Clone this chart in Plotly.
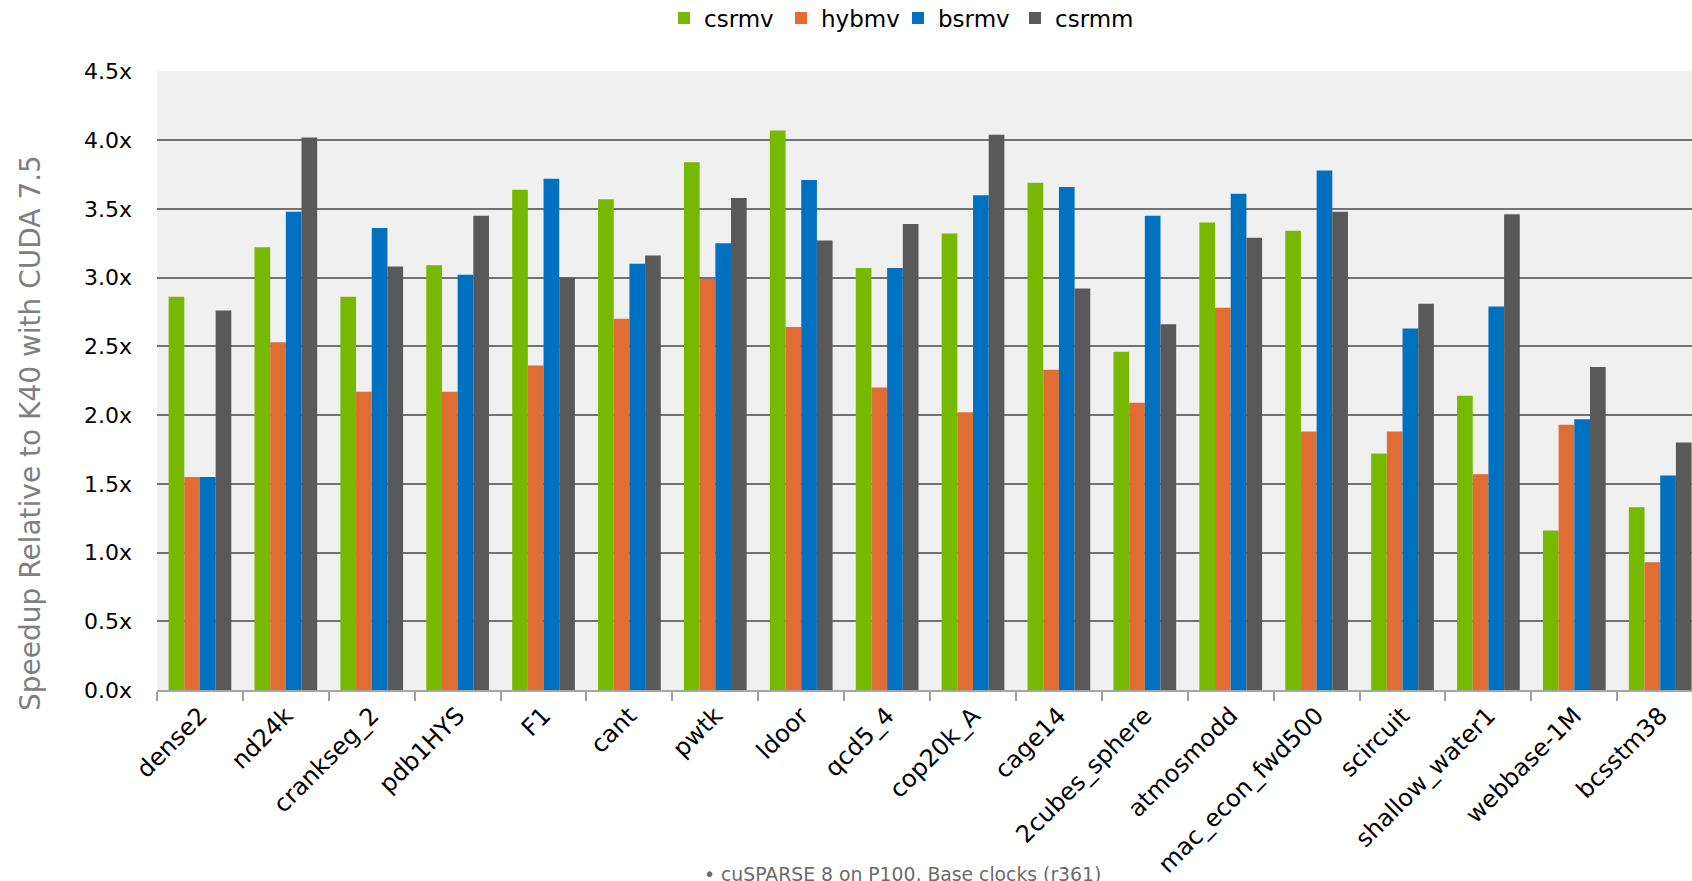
import plotly.graph_objects as go

# Sparse matrices benchmarked
matrices = [
    "dense2", "nd24k", "crankseg_2", "pdb1HYS", "F1", "cant", "pwtk", "ldoor",
    "qcd5_4", "cop20k_A", "cage14", "2cubes_sphere", "atmosmodd",
    "mac_econ_fwd500", "scircuit", "shallow_water1", "webbase-1M", "bcsstm38",
]

# Speedup of P100 (cuSPARSE 8) over K40 (CUDA 7.5), per routine
csrmv = [2.86, 3.22, 2.86, 3.09, 3.64, 3.57, 3.84, 4.07, 3.07, 3.32, 3.69,
         2.46, 3.40, 3.34, 1.72, 2.14, 1.16, 1.33]
hybmv = [1.55, 2.53, 2.17, 2.17, 2.36, 2.70, 2.99, 2.64, 2.20, 2.02, 2.33,
         2.09, 2.78, 1.88, 1.88, 1.57, 1.93, 0.93]
bsrmv = [1.55, 3.48, 3.36, 3.02, 3.72, 3.10, 3.25, 3.71, 3.07, 3.60, 3.66,
         3.45, 3.61, 3.78, 2.63, 2.79, 1.97, 1.56]
csrmm = [2.76, 4.02, 3.08, 3.45, 3.00, 3.16, 3.58, 3.27, 3.39, 4.04, 2.92,
         2.66, 3.29, 3.48, 2.81, 3.46, 2.35, 1.80]

series = [
    ("csrmv", csrmv, "#76b900"),
    ("hybmv", hybmv, "#e06d33"),
    ("bsrmv", bsrmv, "#0070c0"),
    ("csrmm", csrmm, "#595959"),
]

y_ticks = [0.0, 0.5, 1.0, 1.5, 2.0, 2.5, 3.0, 3.5, 4.0, 4.5]
y_tick_text = [f"{v:.1f}x" for v in y_ticks]

FONT = "DejaVu Sans"

fig = go.Figure()
for name, vals, color in series:
    fig.add_trace(go.Bar(
        name=name, x=matrices, y=vals,
        marker=dict(color=color, line=dict(width=0)),
    ))

W, H = 1692, 881
L, T, B = 157, 71, 191
Y0_PX = H - B  # pixel row of the x axis
PLOT_H = Y0_PX - T


def paper_y(px):
    return (Y0_PX - px) / PLOT_H


fig.update_layout(
    width=W, height=H,
    margin=dict(l=L, r=0, t=T, b=B, pad=0, autoexpand=False),
    paper_bgcolor="white",
    plot_bgcolor="#f0f0f0",
    barmode="group",
    bargap=0.27,
    bargroupgap=0,
    font=dict(family=FONT, color="black"),
    legend=dict(
        orientation="h",
        xref="container", yref="paper",
        x=664 / W, y=paper_y(-3.5),
        xanchor="left", yanchor="top",
        font=dict(family=FONT, size=23, color="black"),
        bgcolor="rgba(0,0,0,0)",
        entrywidth=72,
        entrywidthmode="pixels",
    ),
    xaxis=dict(
        type="category",
        range=[-0.5, 17.37],
        tickangle=-45,
        tickfont=dict(family=FONT, size=24, color="black"),
        ticks="outside",
        tickson="boundaries",
        ticklen=9,
        tickwidth=2,
        tickcolor="#a0a0a0",
        showline=True,
        linecolor="#a6a6a6",
        linewidth=2,
        showgrid=False,
        fixedrange=True,
        automargin=False,
    ),
    yaxis=dict(
        range=[0, 4.503],
        tickvals=y_ticks,
        ticktext=y_tick_text,
        tickfont=dict(family=FONT, size=22, color="black"),
        ticks="",
        ticklabelstandoff=24,
        showgrid=True,
        gridcolor="#727272",
        gridwidth=1.5,
        zeroline=False,
        showline=False,
        fixedrange=True,
        automargin=False,
    ),
    annotations=[
        dict(
            text="Speedup Relative to K40 with CUDA 7.5",
            xref="paper", yref="paper",
            x=(30 - L) / (W - L), y=paper_y(433),
            xanchor="center", yanchor="middle",
            textangle=-90, showarrow=False,
            font=dict(family=FONT, size=28, color="#7f7f7f"),
        ),
        dict(
            text="• cuSPARSE 8 on P100, Base clocks (r361)",
            xref="paper", yref="paper",
            x=(702 - L) / (W - L), y=paper_y(862),
            xanchor="left", yanchor="top",
            showarrow=False,
            font=dict(family=FONT, size=18.8, color="#6b6b6b"),
        ),
    ],
)

fig.write_html("out.html")
